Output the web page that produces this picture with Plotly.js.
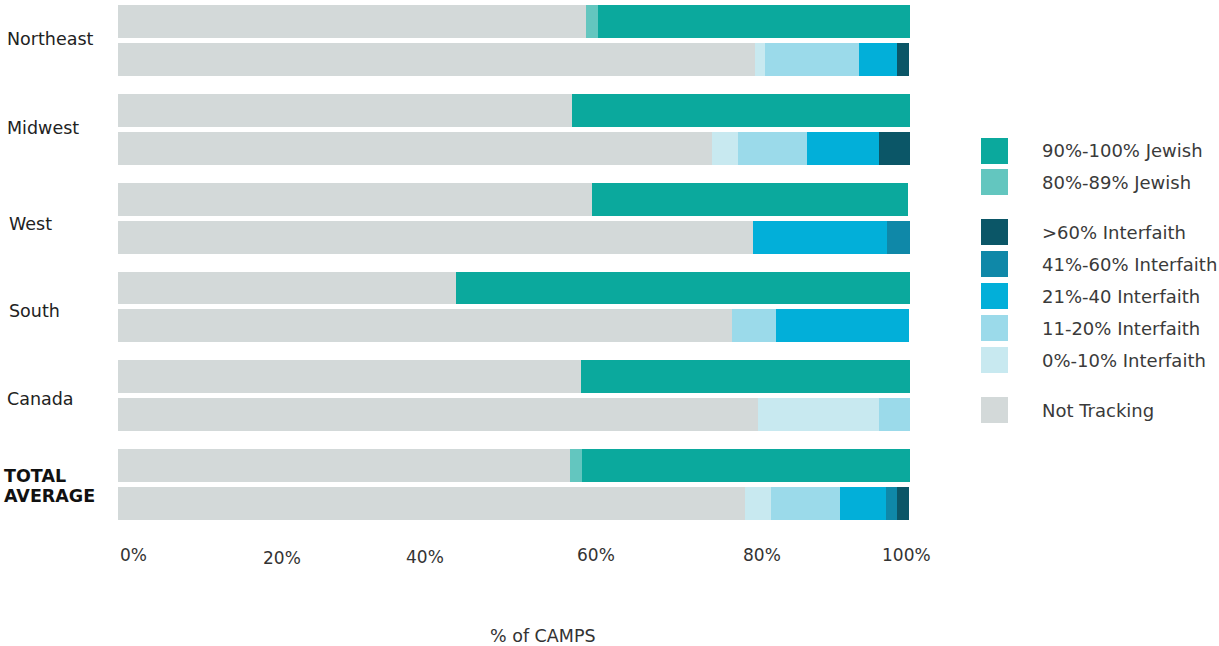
<!DOCTYPE html>
<html>
<head>
<meta charset="utf-8">
<script src="https://cdn.plot.ly/plotly-3.0.1.min.js"></script>
<style>html,body{margin:0;padding:0;background:#fff;}#chart{width:1219px;height:646px;}</style>
</head>
<body>
<div id="chart"></div>
<script>
// Regions (each has a Jewish-composition bar on top and an Interfaith bar below)
const regions = ["Northeast", "Midwest", "West", "South", "Canada", "TOTAL AVERAGE"];

// Values in % of camps, order per region: [top bar, bottom bar]
const notTracking = [59.1, 80.4, 57.3, 75.0, 59.8, 80.2, 42.7, 77.5, 58.5, 80.8, 57.1, 79.2];
const jewish80    = [1.5, 0, 0, 0, 0, 0, 0, 0, 0, 0, 1.5, 0];
const jewish90    = [39.4, 0, 42.7, 0, 40.0, 0, 57.3, 0, 41.5, 0, 41.4, 0];
const inter0      = [0, 1.3, 0, 3.3, 0, 0, 0, 0, 0, 15.3, 0, 3.3];
const inter11     = [0, 11.9, 0, 8.7, 0, 0, 0, 5.6, 0, 3.9, 0, 8.7];
const inter21     = [0, 4.8, 0, 9.1, 0, 16.9, 0, 16.8, 0, 0, 0, 5.8];
const inter41     = [0, 0, 0, 0, 0, 2.9, 0, 0, 0, 0, 0, 1.4];
const inter60     = [0, 1.5, 0, 3.9, 0, 0, 0, 0, 0, 0, 0, 1.5];

const tickVals   = [0, 20, 40, 60, 80, 100];
const tickLabels = ["0%", "20%", "40%", "60%", "80%", "100%"];

const series = [
  {name: "Not Tracking",        vals: notTracking, color: "#D3D9D9"},
  {name: "80%-89% Jewish",      vals: jewish80,    color: "#63C6BF"},
  {name: "90%-100% Jewish",     vals: jewish90,    color: "#0BA99D"},
  {name: "0%-10% Interfaith",   vals: inter0,      color: "#C8E9F0"},
  {name: "11-20% Interfaith",   vals: inter11,     color: "#9BDAEA"},
  {name: "21%-40 Interfaith",   vals: inter21,     color: "#02AFD9"},
  {name: "41%-60% Interfaith",  vals: inter41,     color: "#0F88A8"},
  {name: ">60% Interfaith",     vals: inter60,     color: "#0B5667"}
];

const GROUP = 2.345;
const yPos = notTracking.map((_, i) => Math.floor(i / 2) * GROUP + (i % 2));

const traces = series.map(s => ({
  type: "bar", orientation: "h",
  x: s.vals, y: yPos, name: s.name,
  marker: {color: s.color, line: {width: 0}},
  width: 0.87, showlegend: false, hoverinfo: "name+x"
}));

const FONT = "DejaVu Sans, sans-serif";
const annotations = [];
const shapes = [];
const px2x = p => (p - 118) / 792;
const py2y = p => 1 - (p - 5) / 515;

// Region labels (placed as in the original)
const labelPx = [5, 5, 7, 7, 5];
const labelPy = [39, 128, 224, 311, 399];
regions.forEach((r, g) => {
  if (r.indexOf("TOTAL") === 0) {
    const parts = r.split(" ");
    [476, 496].forEach((py, k) => annotations.push({
      xref: "paper", yref: "paper", x: px2x(2), y: py2y(py),
      xanchor: "left", yanchor: "middle", showarrow: false,
      text: "<b>" + parts[k] + "</b>",
      font: {family: FONT, size: 17.5, color: "#111"}
    }));
  } else {
    annotations.push({
      xref: "paper", yref: "paper", x: px2x(labelPx[g]), y: py2y(labelPy[g]),
      xanchor: "left", yanchor: "middle", showarrow: false, text: r,
      font: {family: FONT, size: 17.5, color: "#222"}
    });
  }
});

// X tick labels (hand-placed as in the original)
const tickPx = [133, 282, 425, 596, 762, 906];
const tickPy = [555, 558, 557, 555, 555, 555];
tickLabels.forEach((t, i) => {
  annotations.push({
    xref: "paper", yref: "paper", x: px2x(tickPx[i]), y: py2y(tickPy[i]),
    xanchor: "center", yanchor: "middle", showarrow: false, text: t,
    font: {family: FONT, size: 17, color: "#333"}
  });
});
// Axis title
annotations.push({
  xref: "paper", yref: "paper", x: px2x(543), y: py2y(636),
  xanchor: "center", yanchor: "middle", showarrow: false, text: "% of CAMPS",
  font: {family: FONT, size: 17.5, color: "#333"}
});

// Legend (drawn manually to match the square swatches and group gaps)
const legendItems = [
  {s: series[2], y: 151}, {s: series[1], y: 182},
  {s: series[7], y: 232}, {s: series[6], y: 264}, {s: series[5], y: 296},
  {s: series[4], y: 328}, {s: series[3], y: 360},
  {s: series[0], y: 410}
];
legendItems.forEach(it => {
  shapes.push({
    type: "rect", xref: "paper", yref: "paper",
    x0: px2x(981), x1: px2x(1008), y0: py2y(it.y - 13), y1: py2y(it.y + 13),
    fillcolor: it.s.color, line: {width: 0}
  });
  annotations.push({
    xref: "paper", yref: "paper", x: px2x(1040), y: py2y(it.y),
    xanchor: "left", yanchor: "middle", showarrow: false, text: it.s.name,
    font: {family: FONT, size: 18, color: "#3a3a3a"}
  });
});

const layout = {
  width: 1219, height: 646,
  margin: {l: 118, r: 309, t: 5, b: 126, pad: 0},
  barmode: "stack", bargap: 0,
  paper_bgcolor: "#fff", plot_bgcolor: "#fff",
  showlegend: false,
  xaxis: {range: [0, 100], showticklabels: false, showgrid: false, zeroline: false,
          showline: false, ticks: "", tickvals: tickVals, fixedrange: true},
  yaxis: {range: [5 * GROUP + 1 + 0.435, -0.435], showticklabels: false, showgrid: false,
          zeroline: false, showline: false, ticks: "", fixedrange: true},
  annotations: annotations, shapes: shapes,
  font: {family: FONT}
};

Plotly.newPlot("chart", traces, layout, {displayModeBar: false, staticPlot: true});
</script>
</body>
</html>
